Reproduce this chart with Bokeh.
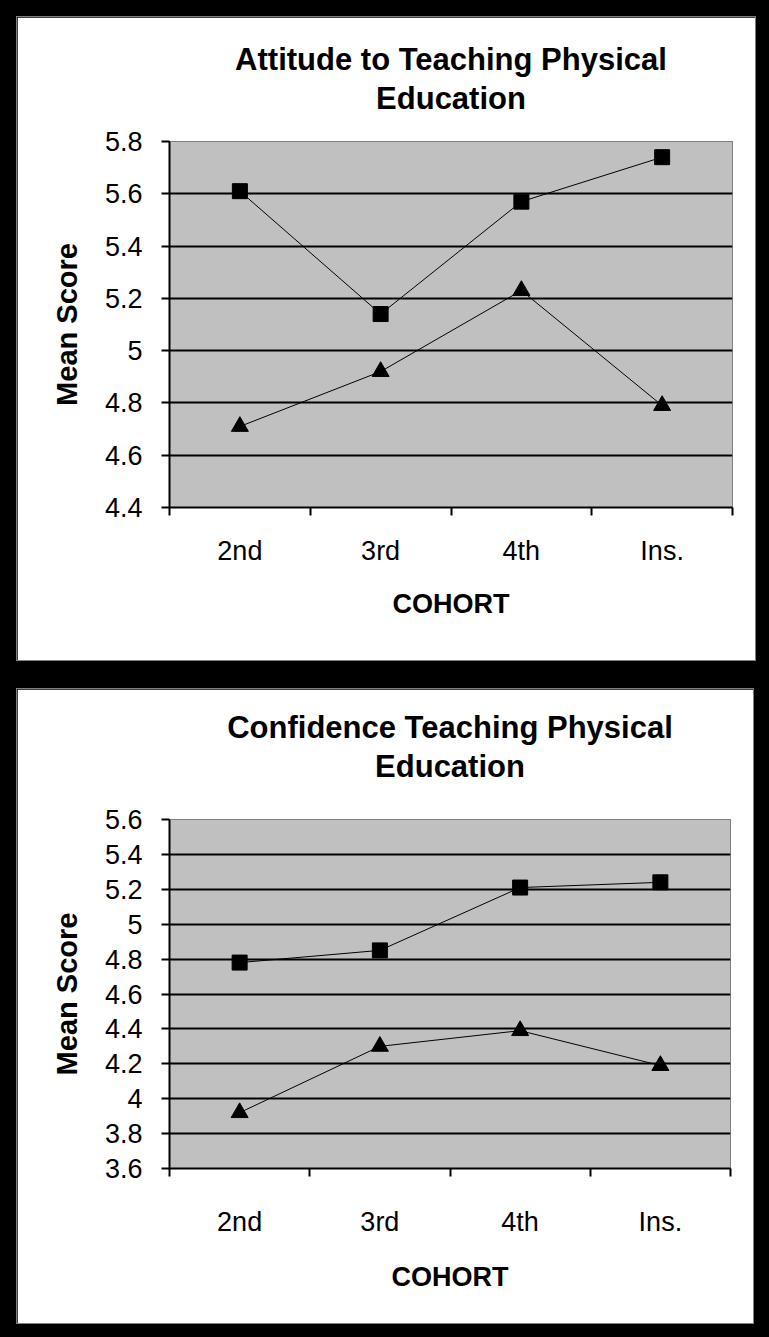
from bokeh.plotting import figure
from bokeh.layouts import column
from bokeh.models import FixedTicker, NumeralTickFormatter, Title, Range1d
from bokeh.embed import file_html
from bokeh.resources import INLINE

# ---- data ----
cohorts = ["2nd", "3rd", "4th", "Ins."]
attitude_square = [5.61, 5.14, 5.57, 5.74]
attitude_triangle = [4.71, 4.92, 5.23, 4.79]
confidence_square = [4.78, 4.85, 5.21, 5.24]
confidence_triangle = [3.92, 4.30, 4.39, 4.19]
attitude_yticks = [4.4, 4.6, 4.8, 5.0, 5.2, 5.4, 5.6, 5.8]
confidence_yticks = [3.6, 3.8, 4.0, 4.2, 4.4, 4.6, 4.8, 5.0, 5.2, 5.4, 5.6]
attitude_title = ["Attitude to Teaching Physical", "Education"]
confidence_title = ["Confidence Teaching Physical", "Education"]

FONT = "Liberation Sans"


def make_panel(title_lines, yticks, sq, tri, width, height, left, right, top, bottom,
               spacer_standoff, xlab_standoff, xtitle_standoff):
    n = len(cohorts)
    xs = [i + 0.5 for i in range(n)]
    bounds = [float(i) for i in range(n + 1)]
    p = figure(width=width, height=height, output_backend="svg", toolbar_location=None,
               x_range=Range1d(0, n), y_range=Range1d(yticks[0], yticks[-1]),
               min_border_left=left, min_border_right=right,
               min_border_top=top, min_border_bottom=bottom,
               background_fill_color="#C0C0C0", border_fill_color="white",
               outline_line_color="#808080", outline_line_width=1)
    # spacer between frame and the title lines
    p.add_layout(Title(text=" ", align="center", text_font=FONT, text_font_size="20px",
                       standoff=spacer_standoff), "above")
    for text in reversed(title_lines):
        p.add_layout(Title(text=text, align="center", text_font=FONT, text_font_size="31px",
                           text_font_style="bold", text_color="black", standoff=2), "above")

    # x axis
    xa = p.xaxis[0]
    xa.ticker = FixedTicker(ticks=xs, minor_ticks=bounds)
    xa.major_label_overrides = {x: c for x, c in zip(xs, cohorts)}
    xa.major_tick_out = 0
    xa.major_tick_in = 0
    xa.minor_tick_out = 8
    xa.minor_tick_in = 0
    xa.minor_tick_line_color = "black"
    xa.minor_tick_line_width = 2
    xa.axis_line_color = "black"
    xa.axis_line_width = 2
    xa.major_label_text_font = FONT
    xa.major_label_text_font_size = "27px"
    xa.major_label_text_color = "black"
    xa.major_label_standoff = xlab_standoff
    xa.axis_label = "COHORT"
    xa.axis_label_text_font = FONT
    xa.axis_label_text_font_size = "27px"
    xa.axis_label_text_font_style = "bold"
    xa.axis_label_text_color = "black"
    xa.axis_label_standoff = xtitle_standoff

    # y axis
    ya = p.yaxis[0]
    ya.ticker = FixedTicker(ticks=yticks)
    ya.formatter = NumeralTickFormatter(format="0.[0]")
    ya.major_tick_out = 8
    ya.major_tick_in = 0
    ya.minor_tick_line_color = None
    ya.major_tick_line_color = "black"
    ya.major_tick_line_width = 2
    ya.axis_line_color = "black"
    ya.axis_line_width = 2
    ya.major_label_text_font = FONT
    ya.major_label_text_font_size = "27px"
    ya.major_label_text_color = "black"
    ya.major_label_standoff = 19
    ya.axis_label = "Mean Score"
    ya.axis_label_text_font = FONT
    ya.axis_label_text_font_size = "29px"
    ya.axis_label_text_font_style = "bold"
    ya.axis_label_text_color = "black"
    ya.axis_label_standoff = 19

    p.xgrid.visible = False
    p.ygrid.ticker = FixedTicker(ticks=yticks[1:-1])
    p.ygrid.grid_line_color = "black"
    p.ygrid.grid_line_width = 2

    p.line(xs, sq, line_color="black", line_width=1)
    p.line(xs, tri, line_color="black", line_width=1)
    p.scatter(xs, sq, marker="square", size=15, color="black")
    p.scatter(xs, tri, marker="triangle", size=17, color="black")
    return p


p1 = make_panel(attitude_title, attitude_yticks,
                attitude_square, attitude_triangle, 738, 643, 149, 22, 124, 153,
                1, 20, 20)
p2 = make_panel(confidence_title, confidence_yticks,
                confidence_square, confidence_triangle, 736, 634, 152, 23, 130, 155,
                11, 30, 22)
p1.margin = (17, 14, 0, 17)
p2.margin = (29, 16, 14, 17)
p1.styles = {"outline": "1px solid #808080"}
p2.styles = {"outline": "1px solid #808080"}

layout = column(p1, p2, styles={"background-color": "black"})

open("out.html", "w").write(file_html(layout, INLINE))
